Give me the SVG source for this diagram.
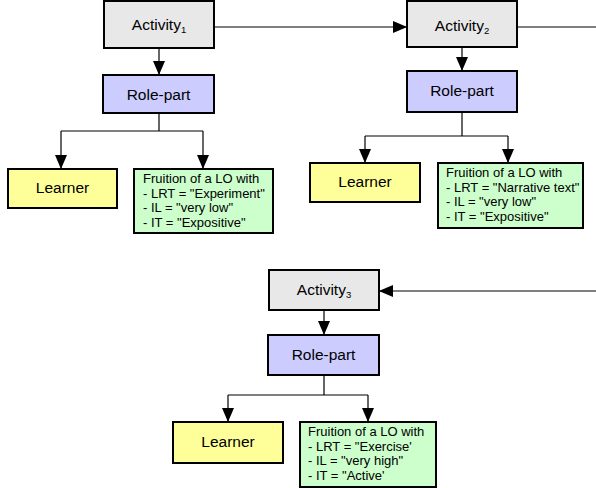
<svg xmlns="http://www.w3.org/2000/svg" width="596" height="488" viewBox="0 0 596 488">
<defs>
<marker id="ah" viewBox="0 0 12 14" refX="14" refY="7" markerWidth="14" markerHeight="14" markerUnits="userSpaceOnUse" orient="auto">
<path d="M0,1 L14,7 L0,13 Z" fill="#000"/>
</marker>
</defs>
<style>
rect{stroke:#000;stroke-width:2}
.act{fill:#e8e8e8}
.role{fill:#ccccff}
.lrn{fill:#ffff99}
.lo{fill:#ccffcc}
text{font-family:"Liberation Sans",Arial,sans-serif;fill:#000}
.t{font-size:15.5px;text-anchor:middle}
.s{font-size:13px}
.sub{font-size:9.5px}
.c{fill:none;stroke:#000;stroke-width:1.2}
.ca{fill:none;stroke:#000;stroke-width:1.2;marker-end:url(#ah)}
</style>
<g id="connectors">
<path class="ca" d="M214,27 H407"/>
<path class="c" d="M517,27 H596"/>
<path class="ca" d="M596,291 H379"/>
<path class="ca" d="M159,48 V75"/>
<path class="c" d="M159,113 V131 M61,131 H203"/>
<path class="ca" d="M61,131 V169"/>
<path class="ca" d="M203,131 V169"/>
<path class="ca" d="M462,47 V71"/>
<path class="c" d="M462,112 V136 M365,136 H508"/>
<path class="ca" d="M365,136 V163"/>
<path class="ca" d="M508,136 V163"/>
<path class="ca" d="M324,310 V335"/>
<path class="c" d="M324,375 V395 M228,395 H368"/>
<path class="ca" d="M228,395 V422"/>
<path class="ca" d="M368,395 V422"/>
</g>
<g id="activity1">
<rect class="act" x="104" y="1" width="110" height="47"/>
<text class="t" x="159" y="30">Activity<tspan class="sub" dy="3">1</tspan></text>
</g>
<g id="rolepart1">
<rect class="role" x="103" y="75" width="111" height="38"/>
<text class="t" x="158.5" y="100">Role-part</text>
</g>
<g id="learner1">
<rect class="lrn" x="8" y="169" width="109" height="39"/>
<text class="t" x="62.5" y="193">Learner</text>
</g>
<g id="lo1">
<rect class="lo" x="134" y="169" width="139" height="64"/>
<text class="s" x="143" y="183">Fruition of a LO with</text>
<text class="s" x="143" y="197.5">- LRT = "Experiment"</text>
<text class="s" x="143" y="212">- IL = "very low"</text>
<text class="s" x="143" y="226.5">- IT = "Expositive"</text>
</g>
<g id="activity2">
<rect class="act" x="407" y="1" width="110" height="46"/>
<text class="t" x="462" y="31">Activity<tspan class="sub" dy="3">2</tspan></text>
</g>
<g id="rolepart2">
<rect class="role" x="407" y="71" width="110" height="41"/>
<text class="t" x="462" y="96">Role-part</text>
</g>
<g id="learner2">
<rect class="lrn" x="310" y="163" width="110" height="39"/>
<text class="t" x="365" y="187">Learner</text>
</g>
<g id="lo2">
<rect class="lo" x="438" y="163" width="145" height="65"/>
<text class="s" x="446" y="177">Fruition of a LO with</text>
<text class="s" x="446" y="191.5">- LRT = "Narrative text"</text>
<text class="s" x="446" y="206">- IL = "very low"</text>
<text class="s" x="446" y="220.5">- IT = "Expositive"</text>
</g>
<g id="activity3">
<rect class="act" x="269" y="270" width="110" height="40"/>
<text class="t" x="324" y="295">Activity<tspan class="sub" dy="3">3</tspan></text>
</g>
<g id="rolepart3">
<rect class="role" x="268" y="335" width="111" height="40"/>
<text class="t" x="323.5" y="360">Role-part</text>
</g>
<g id="learner3">
<rect class="lrn" x="173" y="422" width="110" height="41"/>
<text class="t" x="228" y="447">Learner</text>
</g>
<g id="lo3">
<rect class="lo" x="300" y="422" width="136" height="65"/>
<text class="s" x="308" y="436">Fruition of a LO with</text>
<text class="s" x="308" y="450.5">- LRT = "Exercise'</text>
<text class="s" x="308" y="465">- IL = "very high"</text>
<text class="s" x="308" y="479.5">- IT = "Active'</text>
</g>
</svg>
